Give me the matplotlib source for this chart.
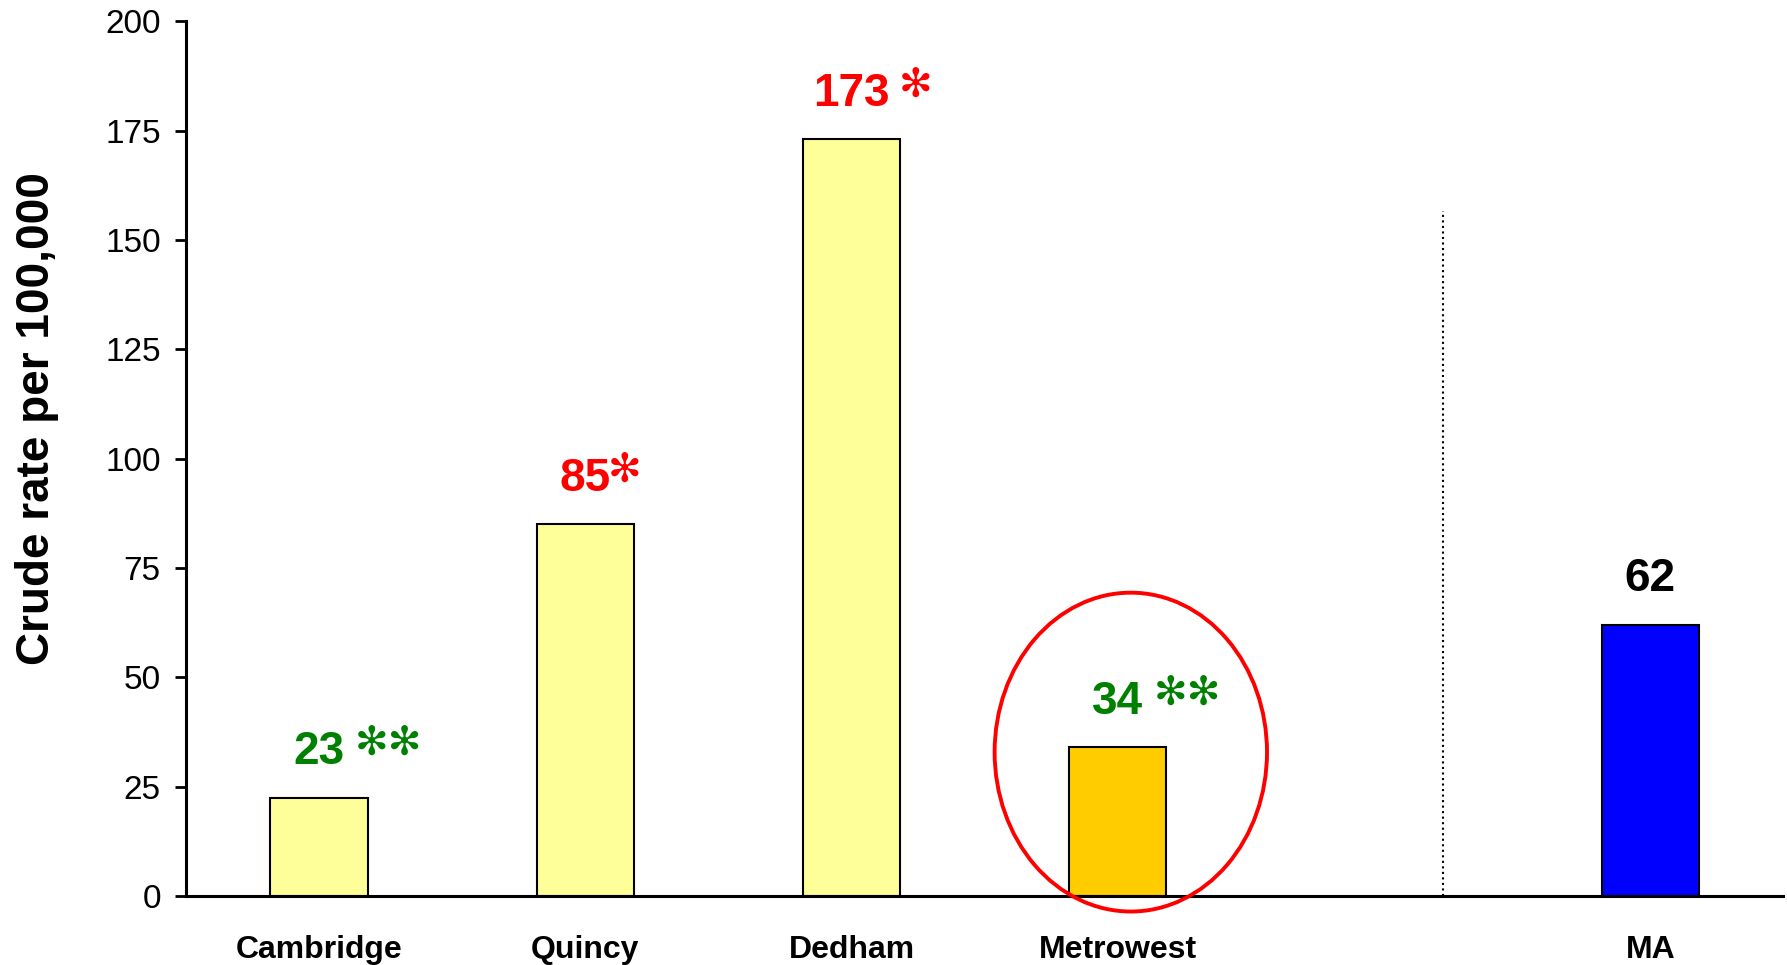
"""
Crude rate per 100,000 by community, with Metrowest circled.
"""

import matplotlib
matplotlib.use("Agg")
import matplotlib.pyplot as plt
from matplotlib.patches import Ellipse
from matplotlib.transforms import ScaledTranslation

plt.rcParams["font.family"] = ["Liberation Sans", "DejaVu Sans"]

# Data
categories: list[str] = ["Cambridge", "Quincy", "Dedham", "Metrowest", "MA"]
positions: list[float] = [0, 1, 2, 3, 5]
rates: list[float] = [22.5, 85, 173, 34, 62]
value_labels: list[str] = ["23", "85", "173", "34", "62"]
stars: list[str] = ["\u273b\u273b", "\u273b", "\u273b", "\u273b\u273b", ""]
star_gap_px: list[float] = [36, 23, 47, 36, 0]

bar_colors = ["#FFFF99", "#FFFF99", "#FFFF99", "#FFCC00", "#0000FF"]
label_colors = ["#008000", "#FF0000", "#FF0000", "#008000", "#000000"]

fig = plt.figure(figsize=(17.87, 9.65), dpi=100)
ax = fig.add_axes([0.104, 0.0715, 0.894, 0.9065])

ax.bar(positions, rates, width=0.365, color=bar_colors,
       edgecolor="black", linewidth=1.5, zorder=2)

# Value labels: digits centred on the bar, stars trailing to the right
for x, v, lab, st, gap, col in zip(positions, rates, value_labels,
                                   stars, star_gap_px, label_colors):
    ax.text(x, v + 7.7, lab, ha="center", va="baseline",
            fontsize=33, fontweight="bold", color=col)
    if st:
        tr = ax.transData + ScaledTranslation(gap / 100, 0.2,
                                              fig.dpi_scale_trans)
        ax.text(x, v + 7.7, st, ha="left", va="center", transform=tr,
                fontsize=29, fontweight="bold", color=col,
                family="DejaVu Sans")

# Separator before the state value
ax.plot([4.222, 4.222], [0, 156.6], color="black", linestyle=":",
        linewidth=1.5, zorder=1)

# Circle around Metrowest
ax.add_patch(Ellipse((3.049, 32.9), 1.023, 72.9, fill=False,
                     edgecolor="#FF0000", linewidth=2.8, clip_on=False,
                     zorder=3))

ax.set_xlim(-0.5, 5.5)
ax.set_ylim(0, 200)
ax.set_yticks(range(0, 201, 25))
ax.set_xticks(positions)
ax.set_xticklabels(categories, fontsize=23, fontweight="bold")
ax.tick_params(axis="x", length=0, pad=28)
ax.tick_params(axis="y", length=8, width=2, labelsize=24, pad=10,
               direction="out")

for side in ["top", "right"]:
    ax.spines[side].set_visible(False)
for side in ["left", "bottom"]:
    ax.spines[side].set_linewidth(2.2)

fig.text(37 / 1787, 1 - 419 / 965, "Crude rate per 100,000", rotation=90,
         ha="center", va="center", fontsize=33, fontweight="bold")

plt.savefig("out.png", dpi=100)
